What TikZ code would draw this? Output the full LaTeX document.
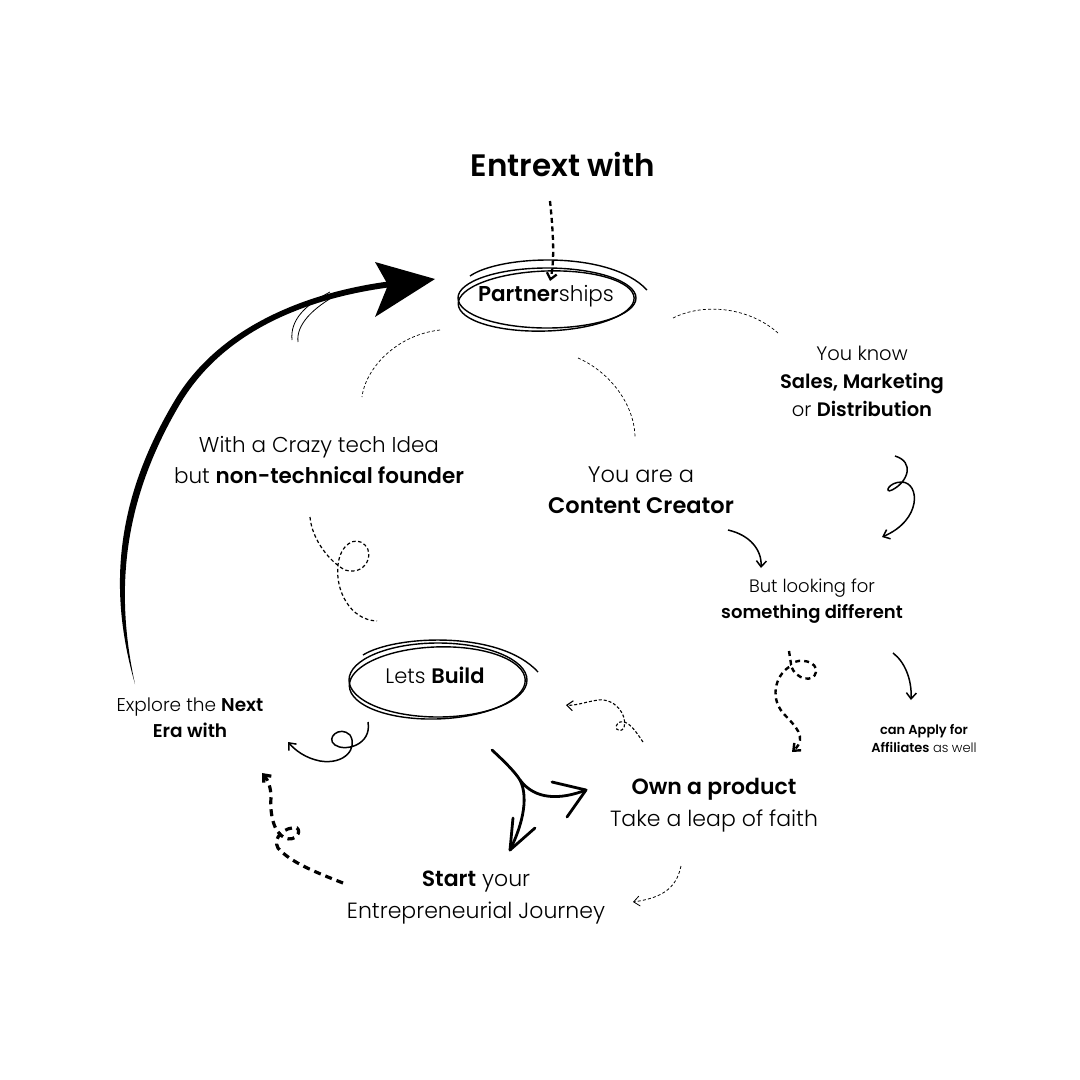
\documentclass[tikz,border=0pt]{standalone}
\usepackage{fontspec}
\setmainfont{Poppins}[UprightFont={* Light},BoldFont={* SemiBold}]
\usetikzlibrary{arrows.meta}

\begin{document}
\begin{tikzpicture}[x=1pt,y=-1pt]
\tikzstyle{txt}=[align=center,inner sep=0pt,font=\fontsize{21.5}{31}\selectfont]
\tikzstyle{ring}=[line width=1.4pt]
\tikzstyle{hand}=[line width=1.5pt,-{Straight Barb[length=6pt,width=10pt]}]
\tikzstyle{fine}=[line width=0.7pt,dash pattern=on 3pt off 2.2pt]
\tikzstyle{heavy}=[line width=3.2pt,dash pattern=on 7pt off 5pt]
\fill[white] (0,0) rectangle (1080,1080);
\useasboundingbox (0,0) rectangle (1080,1080);

% labels
\node[txt,font=\fontsize{31}{36}\selectfont\bfseries] (entrext) at (563,164) {Entrext with};
\node[txt] (partner) at (546,296) {\textbf{Partner}ships};
\node[txt] (crazy) at (319,460) {With a Crazy tech Idea\\but \textbf{non-technical founder}};
\node[txt,font=\fontsize{22.5}{31}\selectfont] (creator) at (641,490) {You are a\\\textbf{Content Creator}};
\node[txt,font=\fontsize{19.5}{28}\selectfont] (know) at (862,381) {You know\\\textbf{Sales, Marketing}\\or \textbf{Distribution}};
\node[txt,font=\fontsize{18}{26}\selectfont] (different) at (812,601) {But looking for\\\textbf{something different}};
\node[txt,font=\fontsize{13}{18}\selectfont] (affil) at (924,738) {\textbf{can Apply for}\\\textbf{Affiliates} as well};
\node[txt,font=\fontsize{21}{28}\selectfont] (build) at (435,675) {Lets \textbf{Build}};
\node[txt,font=\fontsize{18.5}{26}\selectfont] (explore) at (190,718) {Explore the \textbf{Next}\\\textbf{Era with}};
\node[txt,font=\fontsize{22}{32}\selectfont] (own) at (714,805) {\textbf{Own a product}\\Take a leap of faith};
\node[txt,font=\fontsize{22}{32}\selectfont] (start) at (476,898) {\textbf{Start} your\\Entrepreneurial Journey};

% free ends of the hand drawn arrows
\coordinate (e1) at (550,201);
\coordinate (e2) at (550,281);
\coordinate (b1) at (135,684);
\coordinate (b2) at (392,281);
\coordinate (c1) at (895,456);
\coordinate (c2) at (882,537);
\coordinate (t1) at (728,530);
\coordinate (t2) at (761,568);
\coordinate (d1) at (789,651);
\coordinate (d2) at (792,752);
\coordinate (f1) at (893,653);
\coordinate (f2) at (911,700);
\coordinate (g1) at (643,742);
\coordinate (g2) at (566,705);
\coordinate (h1) at (368,722);
\coordinate (h2) at (288,742);
\coordinate (k1) at (343,883);
\coordinate (k2) at (262,773);
\coordinate (s0) at (492,750);
\coordinate (sj) at (520,780);
\coordinate (s1) at (586,790);
\coordinate (s2) at (510,850);
\coordinate (m1) at (681,866);
\coordinate (m2) at (633,902);

% scribbled rings
\draw[ring] ([shift={(1,2)}]partner) ellipse [x radius=89, y radius=30];
\draw[ring,rotate around={2:(partner)}] ([shift={(0,5)}]partner) ellipse [x radius=88, y radius=30];
\draw[ring] (470,276) .. controls (500,255) and (610,250) .. (647,290);
\draw[ring] ([shift={(3,5)}]build) ellipse [x radius=89, y radius=37];
\draw[ring,rotate around={2:(build)}] ([shift={(2,8)}]build) ellipse [x radius=88, y radius=36];
\draw[ring] (363,655) .. controls (395,635) and (500,630) .. (538,672);

% big return arrow
\fill (b1) .. controls (108,590) and (115,500) .. (175,400) .. controls (223,320) and (320,290) .. (b2) -- (392,287) .. controls (322,296) and (228,323) .. (180,404) .. controls (122,502) and (115,592) .. (b1);
\fill (435,279) -- (375,262) -- (388,285) -- (375,317) -- cycle;
\draw[line width=0.8pt] (330,292) .. controls (305,305) and (290,320) .. (292,340);
\draw[line width=0.8pt] (340,293) .. controls (312,308) and (296,325) .. (298,342);

% thin dashed arcs
\draw[fine] (440,330) .. controls (395,335) and (365,370) .. (362,397);
\draw[fine] (578,358) .. controls (610,372) and (635,405) .. (635,438);
\draw[fine] (673,318) .. controls (705,302) and (750,308) .. (778,333);
\draw[line width=1.2pt,dash pattern=on 3.5pt off 2.5pt] (310,517) .. controls (312,540) and (330,562) .. (345,570) .. controls (365,576) and (375,555) .. (365,545) .. controls (355,535) and (340,545) .. (338,565) .. controls (335,590) and (350,620) .. (377,621);

% arrows
\draw[hand,line width=2.3pt,dash pattern=on 5pt off 3.5pt] (e1) .. controls (553,230) and (555,260) .. (e2);
\draw[hand] (c1) .. controls (915,462) and (908,482) .. (892,490) .. controls (884,494) and (888,482) .. (902,482) .. controls (920,483) and (922,520) .. (c2);
\draw[hand] (t1) .. controls (750,535) and (762,550) .. (t2);
\draw[hand,line width=2.4pt,dash pattern=on 5pt off 4pt] (d1) -- (791,664) .. controls (800,657) and (818,662) .. (816,672) .. controls (814,683) and (796,680) .. (791,666) .. controls (778,672) and (768,695) .. (783,713) .. controls (795,726) and (808,737) .. (d2);
\draw[hand] (f1) .. controls (905,662) and (912,680) .. (f2);
\draw[hand,line width=1.1pt,dash pattern=on 3pt off 2pt] (g1) .. controls (635,730) and (628,720) .. (620,722) .. controls (612,726) and (618,735) .. (624,728) .. controls (628,715) and (615,698) .. (598,700) .. controls (585,702) and (575,706) .. (g2);
\draw[hand] (h1) .. controls (372,745) and (345,752) .. (335,745) .. controls (325,738) and (340,725) .. (350,735) .. controls (358,748) and (345,765) .. (320,761) .. controls (305,758) and (295,750) .. (h2);
\draw[hand,heavy] (k1) .. controls (315,872) and (290,862) .. (278,848) .. controls (272,838) and (285,826) .. (297,828) .. controls (302,832) and (295,842) .. (285,838) .. controls (272,832) and (270,810) .. (271,797) .. controls (271,788) and (268,780) .. (k2);
\draw[hand,fine,line width=0.8pt] (m1) .. controls (676,890) and (660,898) .. (m2);

% split arrow
\draw[line width=2.8pt,line cap=round,line join=round] (s0) .. controls (505,762) and (515,772) .. (sj) .. controls (535,800) and (560,800) .. (s1);
\draw[line width=2.8pt,line cap=round] (sj) .. controls (530,800) and (520,830) .. (s2);
\draw[line width=2.8pt,line cap=round,line join=round] (552,782) -- (s1) -- (567,817);
\draw[line width=2.8pt,line cap=round,line join=round] (513,818) -- (s2) -- (535,828);
\end{tikzpicture}
\end{document}
